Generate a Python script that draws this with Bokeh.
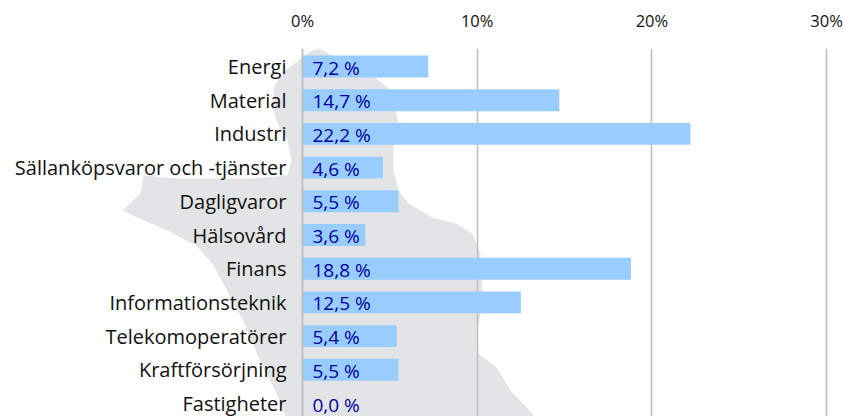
from bokeh.plotting import figure
from bokeh.models import Range1d, FixedTicker, ColumnDataSource, PolyAnnotation, Span
from bokeh.core.properties import value
from bokeh.embed import file_html
from bokeh.resources import INLINE

categories = ["Energi", "Material", "Industri", "Sällanköpsvaror och -tjänster", "Dagligvaror",
              "Hälsovård", "Finans", "Informationsteknik", "Telekomoperatörer", "Kraftförsörjning", "Fastigheter"]
shares = [7.2, 14.7, 22.2, 4.6, 5.5, 3.6, 18.8, 12.5, 5.4, 5.5, 0.0]
x_ticks = [0, 10, 20, 30]
x_tick_labels = ["0%", "10%", "20%", "30%"]

# decorative background silhouette (page pixels)
map_x = [318, 332, 375, 387, 395, 398, 393, 393, 398, 408, 432, 455, 472, 480, 482, 480, 477, 478, 497, 510, 532, 536,
         287, 277, 260, 243, 227, 213, 197, 167, 143, 122, 140, 143, 177, 210, 250, 287, 291, 287, 278, 272, 274, 285, 298, 308]
map_y = [48, 55, 77, 87, 110, 122, 147, 170, 190, 203, 217, 223, 233, 253, 290, 313, 330, 353, 368, 390, 413, 420,
         420, 395, 361, 321, 291, 265, 246, 230, 220, 210, 193, 175, 178, 178, 178, 175, 160, 140, 125, 107, 85, 70, 60, 52]

FONT = "Open Sans"
W, H = 844, 416
X0, FT = 302, 48
X_SCALE = 17.47
ROW0, ROW_H = 66.0, 33.7

p = figure(width=W, height=H, output_backend="svg", toolbar_location=None,
           x_axis_location="above", y_axis_location=None, min_border_left=0, min_border_top=FT,
           min_border_right=0, min_border_bottom=0,
           x_range=Range1d(-X0 / X_SCALE, (W - X0) / X_SCALE),
           y_range=Range1d((H - ROW0) / ROW_H, (FT - ROW0) / ROW_H))
p.outline_line_color = None
p.background_fill_color = "white"
p.border_fill_color = None

p.add_layout(PolyAnnotation(xs=map_x, ys=map_y, xs_units="canvas", ys_units="canvas",
                            fill_color="#E3E4E6", fill_alpha=1, line_alpha=0, level="image"))

rows = list(range(len(categories)))
src = ColumnDataSource(dict(y=rows, v=shares, c=categories,
                            t=[f"{v:.1f} %".replace(".", ",") for v in shares]))
p.hbar(y="y", left=0, right="v", height=0.65, source=src, fill_color="#99CCFF", line_color=None)
p.text(x=0, y="y", text="t", source=src, x_offset=10, y_offset=1, text_align="left", text_baseline="middle",
       text_font=value(FONT), text_font_size="19px", text_color="#0000A0")
p.text(x=0, y="y", text="c", source=src, x_offset=-16, y_offset=0, text_align="right", text_baseline="middle",
       text_font=value(FONT), text_font_size="20px", text_color="#111111")
p.add_layout(Span(location=0, dimension="height", line_color="#C0C0C0", line_width=1.6))

p.xgrid.ticker = FixedTicker(ticks=x_ticks)
p.xgrid.grid_line_color = "#C0C0C0"
p.xgrid.grid_line_width = 1.6
p.ygrid.visible = False

xa = p.xaxis[0]
xa.ticker = FixedTicker(ticks=x_ticks)
xa.major_label_overrides = dict(zip(x_ticks, x_tick_labels))
xa.axis_line_color = None
xa.major_tick_line_color = None
xa.minor_tick_line_color = None
xa.major_label_standoff = 11
xa.major_label_text_font = FONT
xa.major_label_text_font_size = "16.5px"
xa.major_label_text_color = "#111111"

open("out.html", "w").write(file_html(p, INLINE))
